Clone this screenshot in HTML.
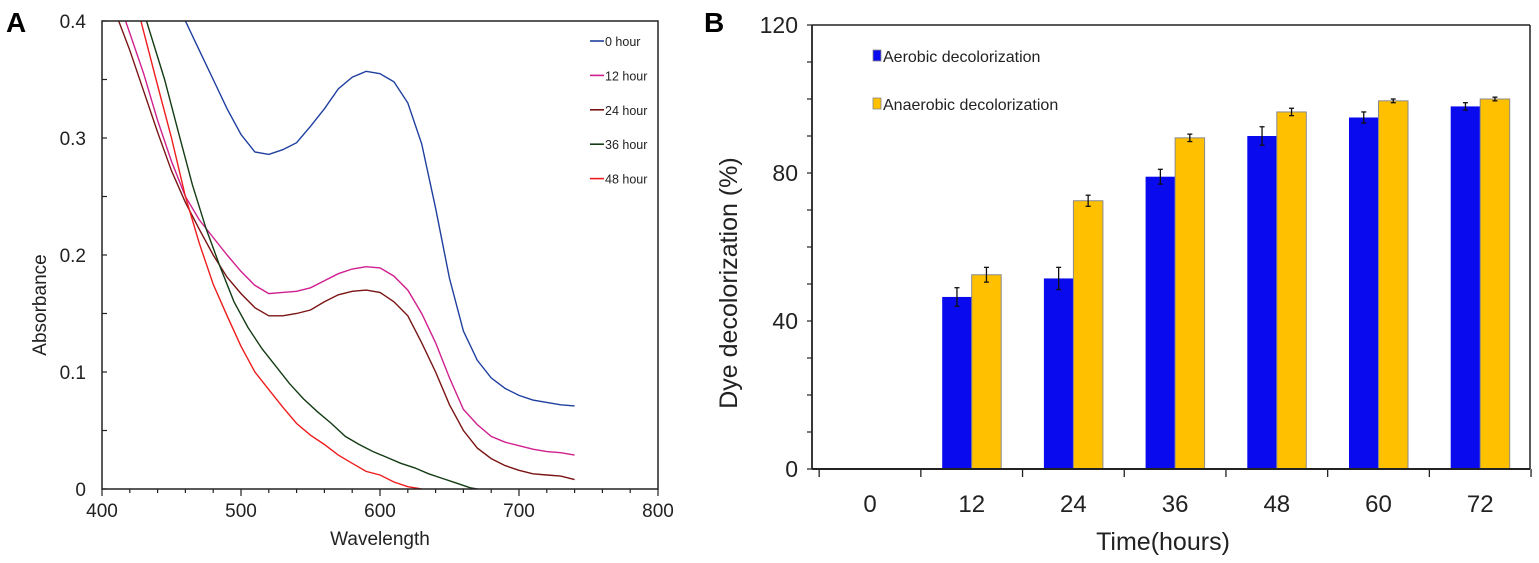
<!DOCTYPE html>
<html><head><meta charset="utf-8"><style>
body{margin:0;background:#fff;}
svg{display:block;font-family:"Liberation Sans",Arial,sans-serif;}
</style></head><body>
<svg id="fig" width="1539" height="563" viewBox="0 0 1539 563" xmlns="http://www.w3.org/2000/svg">
<text x="6" y="32" font-size="28" font-weight="bold">A</text>
<text x="704" y="32" font-size="28" font-weight="bold">B</text>
<g id="chartA"></g>
<g id="chartB"></g>
</svg>
<script>
const NS="http://www.w3.org/2000/svg";
// ---- Chart A data ----
const seriesNames=["0 hour","12 hour","24 hour","36 hour","48 hour"];
const seriesColors=["#1f3f9f","#d0208f","#7a1414","#143c14","#ee1c1c"];
const wl0=[460,470,480,490,500,510,520,530,540,550,560,570,580,590,600,610,620,630,640,650,660,670,680,690,700,710,720,730,740];
const abs0=[0.4,0.375,0.35,0.325,0.303,0.288,0.286,0.29,0.296,0.31,0.325,0.342,0.352,0.357,0.355,0.348,0.33,0.295,0.24,0.18,0.135,0.11,0.095,0.086,0.08,0.076,0.074,0.072,0.071];
const wl12=[417,430,440,450,460,470,480,490,500,510,520,530,540,550,560,570,580,590,600,610,620,630,640,650,660,670,680,690,700,710,720,730,740];
const abs12=[0.4,0.355,0.315,0.28,0.25,0.23,0.215,0.2,0.186,0.174,0.167,0.168,0.169,0.172,0.178,0.184,0.188,0.19,0.189,0.182,0.17,0.15,0.125,0.095,0.068,0.055,0.045,0.04,0.037,0.034,0.032,0.031,0.029];
const wl24=[412,420,430,440,450,460,470,480,490,500,510,520,530,540,550,560,570,580,590,600,610,620,630,640,650,660,670,680,690,700,710,720,730,740];
const abs24=[0.4,0.375,0.34,0.305,0.272,0.245,0.222,0.2,0.181,0.167,0.155,0.148,0.148,0.15,0.153,0.16,0.166,0.169,0.17,0.168,0.16,0.148,0.125,0.1,0.072,0.05,0.035,0.026,0.02,0.016,0.013,0.012,0.011,0.008];
const wl36=[432,445,455,465,475,485,495,505,515,525,535,545,555,565,575,585,595,605,615,625,635,645,655,665,670];
const abs36=[0.4,0.35,0.305,0.26,0.222,0.19,0.16,0.138,0.12,0.105,0.09,0.077,0.066,0.056,0.045,0.038,0.032,0.027,0.022,0.018,0.013,0.009,0.005,0.001,0];
const wl48=[428,440,450,460,470,480,490,500,510,520,530,540,550,560,570,580,590,600,610,620,630];
const abs48=[0.4,0.345,0.3,0.25,0.21,0.175,0.148,0.122,0.1,0.085,0.07,0.056,0.046,0.038,0.029,0.022,0.015,0.012,0.006,0.002,0];
const xTicksA=[400,500,600,700,800];
const yTicksA=[0,0.1,0.2,0.3,0.4];
// ---- Chart B data ----
const categories=["0","12","24","36","48","60","72"];
const aerobic=[0,46.5,51.5,79,90,95,98];
const aerobicErr=[0,2.5,3,2,2.5,1.5,1];
const anaerobic=[0,52.5,72.5,89.5,96.5,99.5,100];
const anaerobicErr=[0,2,1.5,1,1,0.5,0.5];
const yTicksB=[0,40,80,120];

function el(tag,attrs,parent,text){const e=document.createElementNS(NS,tag);for(const k in attrs)e.setAttribute(k,attrs[k]);if(text!==undefined)e.textContent=text;parent.appendChild(e);return e;}

// ---- Chart A ----
const A=document.getElementById('chartA');
const ax0=102,ax1=658,ay0=489,ay1=21;
const xA=v=>ax0+(v-400)/400*(ax1-ax0);
const yA=v=>ay0-(v/0.4)*(ay0-ay1);
const defs=el('defs',{},A);
const cp=el('clipPath',{id:'clipA'},defs);
el('rect',{x:ax0,y:ay1,width:ax1-ax0,height:ay0-ay1},cp);
const wls=[wl0,wl12,wl24,wl36,wl48], abss=[abs0,abs12,abs24,abs36,abs48];
const lineKeys=["line-0-hour","line-12-hour","line-24-hour","line-36-hour","line-48-hour"];
for(let s=0;s<5;s++){
  const d=wls[s].map((w,i)=>(i?'L':'M')+xA(w).toFixed(1)+','+yA(abss[s][i]).toFixed(1)).join(' ');
  const p=el('path',{d:d,fill:'none',stroke:seriesColors[s],'stroke-width':1.4,'clip-path':'url(#clipA)'},A);
  
  
}
const frA=el('rect',{x:ax0,y:ay1,width:ax1-ax0,height:ay0-ay1,fill:'none',stroke:'#222','stroke-width':1.5},A);


for(let v=400;v<=800;v+=20){el('line',{x1:xA(v),x2:xA(v),y1:ay0,y2:ay0+(v%100?4:7),stroke:'#222','stroke-width':1.2},A);}
for(let v=0;v<=0.4001;v+=0.05){el('line',{x1:ax0,x2:ax0+5,y1:yA(v),y2:yA(v),stroke:'#222','stroke-width':1.2},A);}
xTicksA.forEach(v=>{const t=el('text',{x:xA(v),y:ay0+28,'font-size':19,'text-anchor':'middle',fill:'#222'},A,String(v));

});
yTicksA.forEach(v=>{const t=el('text',{x:ax0-16,y:yA(v)+7,'font-size':19,'text-anchor':'end',fill:'#222'},A,v===0?'0':v.toFixed(1));

});
const xtA=el('text',{x:380,y:545,'font-size':19,'text-anchor':'middle',fill:'#222'},A,'Wavelength');


const ytA=el('text',{x:0,y:0,'font-size':19,'text-anchor':'middle',fill:'#222',transform:'translate(46,305) rotate(-90)'},A,'Absorbance');


seriesNames.forEach((n,i)=>{const g=el('g',{},A);


const y=41+i*34.4;
el('line',{x1:590,x2:604,y1:y,y2:y,stroke:seriesColors[i],'stroke-width':1.6},g);
el('text',{x:605,y:y+5,'font-size':12.5,fill:'#222'},g,n);});

// ---- Chart B ----
const B=document.getElementById('chartB');
const bx0=812,bx1=1530,by0=469,by1=25;
const yB=v=>by0-v/120*(by0-by1);
const step=101.7, c0=870;
const xB=i=>c0+i*step;
const bw=29.5;
for(let i=1;i<categories.length;i++){
  const bA=el('rect',{x:xB(i)-bw,y:yB(aerobic[i]),width:bw,height:by0-yB(aerobic[i]),fill:'#0a0aee'},B);
  
  
  const bN=el('rect',{x:xB(i),y:yB(anaerobic[i]),width:bw,height:by0-yB(anaerobic[i]),fill:'#ffc000',stroke:'#8a8a8a','stroke-width':1},B);
  
  
  [[xB(i)-bw/2,aerobic[i],aerobicErr[i]],[xB(i)+bw/2,anaerobic[i],anaerobicErr[i]]].forEach(([cx,v,e])=>{
    const g=el('g',{stroke:'#111','stroke-width':1.3},B);
    
    
    el('line',{x1:cx,x2:cx,y1:yB(v+e),y2:yB(v-e)},g);
    el('line',{x1:cx-2.5,x2:cx+2.5,y1:yB(v+e),y2:yB(v+e)},g);
    el('line',{x1:cx-2.5,x2:cx+2.5,y1:yB(v-e),y2:yB(v-e)},g);
  });
}
el('line',{x1:bx0,x2:bx1,y1:by1,y2:by1,stroke:'#222','stroke-width':1.5},B);
el('line',{x1:bx1,x2:bx1,y1:by1,y2:by0,stroke:'#222','stroke-width':1.5},B);
el('line',{x1:bx0,x2:bx0,y1:by1,y2:by0,stroke:'#222','stroke-width':1.8},B);
el('line',{x1:bx0,x2:bx1,y1:by0,y2:by0,stroke:'#222','stroke-width':2},B);
for(let v=0;v<=120;v+=10){el('line',{x1:bx0-5,x2:bx0,y1:yB(v),y2:yB(v),stroke:'#222','stroke-width':1.2},B);}
for(let i=0;i<=categories.length;i++){const x=c0-step/2+i*step;el('line',{x1:x,x2:x,y1:by0,y2:by0+8,stroke:'#222','stroke-width':1.3},B);}
yTicksB.forEach(v=>{const t=el('text',{x:bx0-14,y:yB(v)+8,'font-size':23,'text-anchor':'end',fill:'#222'},B,String(v));

});
categories.forEach((c,i)=>{const t=el('text',{x:xB(i),y:512,'font-size':24,'text-anchor':'middle',fill:'#222'},B,c);

});
const xtB=el('text',{x:1163,y:550,'font-size':25,'text-anchor':'middle',fill:'#222'},B,'Time(hours)');


const ytB=el('text',{x:0,y:0,'font-size':25,'text-anchor':'middle',fill:'#222',transform:'translate(737,283) rotate(-90)'},B,'Dye decolorization  (%)');


[["Aerobic decolorization","#0a0aee",56],["Anaerobic decolorization","#ffc000",104]].forEach(([n,c,y])=>{
  const g=el('g',{},B);
  
  
  el('rect',{x:873,y:y-6,width:8,height:11,fill:c,stroke:'#888','stroke-width':0.8},g);
  el('text',{x:883,y:y+6,'font-size':16,fill:'#222'},g,n);
});
</script>
</body></html>
